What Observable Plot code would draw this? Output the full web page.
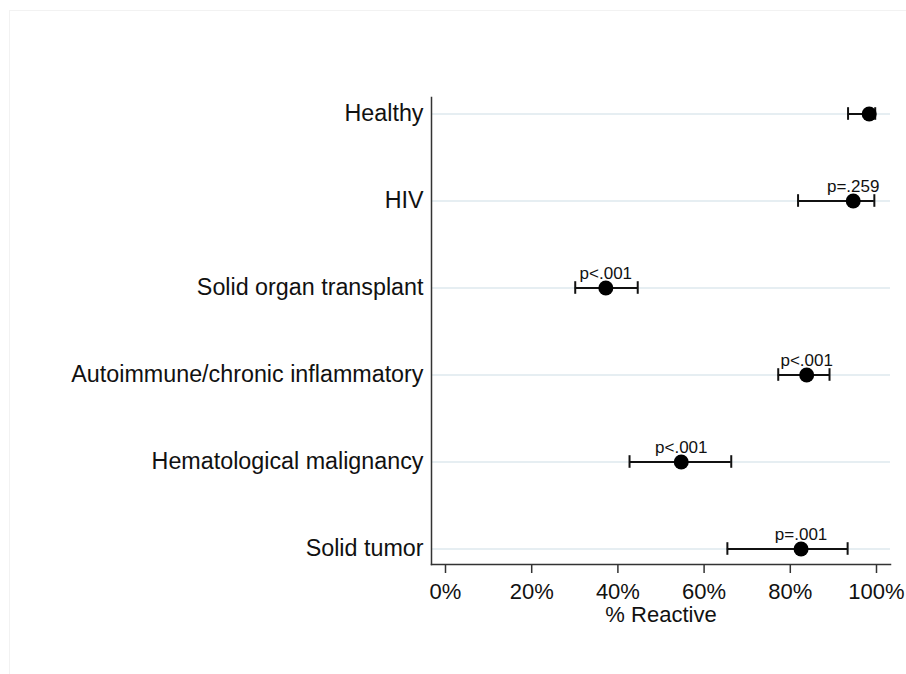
<!DOCTYPE html>
<html><head><meta charset="utf-8">
<script src="https://cdn.jsdelivr.net/npm/d3@7"></script>
<script src="https://cdn.jsdelivr.net/npm/@observablehq/plot@0.6"></script>
<style>
body{margin:0;background:#fff;}
#wrap{position:relative;width:906px;height:674px;overflow:hidden;}
#border{position:absolute;left:9px;top:10px;width:906px;height:674px;border:1px solid #f2f2f2;}
#chart{position:absolute;left:0;top:0;}
</style></head><body>
<div id="wrap"><div id="border"></div><div id="chart"></div></div>
<script>
const groups = ["Healthy", "HIV", "Solid organ transplant", "Autoimmune/chronic inflammatory", "Hematological malignancy", "Solid tumor"];
const estimates = [98.3, 94.6, 37.2, 83.8, 54.7, 82.5];
const lower = [93.4, 81.8, 30.1, 77.2, 42.7, 65.4];
const upper = [99.7, 99.5, 44.6, 89.1, 66.3, 93.3];
const pLabels = ["", "p=.259", "p<.001", "p<.001", "p<.001", "p=.001"];
const xTicks = [0, 20, 40, 60, 80, 100];

const data = groups.map((g, i) => ({group: g, est: estimates[i], lo: lower[i], hi: upper[i], p: pLabels[i]}));

const chart = Plot.plot({
  width: 906, height: 674,
  marginLeft: 431, marginRight: 16, marginTop: 97, marginBottom: 110,
  style: {fontFamily: "'Liberation Sans', Arial, sans-serif", background: "transparent", color: "#111"},
  x: {domain: [0, 100], insetLeft: 14, insetRight: 14},
  y: {type: "band", domain: groups, padding: 0, insetTop: -28.7, insetBottom: -28.7},
  marks: [
    Plot.ruleY(groups, {y: d => d, stroke: "#e6eef2", strokeWidth: 2}),
    Plot.frame({anchor: "left", stroke: "#333", strokeWidth: 1.5}),
    Plot.frame({anchor: "bottom", stroke: "#333", strokeWidth: 1.5}),
    Plot.axisY({tickSize: 0, tickPadding: 8, fontSize: 23.3, label: null}),
    Plot.axisX({ticks: xTicks, tickFormat: d => d + "%", tickSize: 9, tickPadding: 10, fontSize: 22,
      stroke: "#333", strokeWidth: 1.5,
      label: "% Reactive", labelAnchor: "center", labelOffset: 57, labelArrow: "none"}),
    Plot.ruleY(data, {y: "group", x1: "lo", x2: "hi", stroke: "#111", strokeWidth: 2}),
    Plot.tickX(data, {x: "lo", y: "group", insetTop: 37.2, insetBottom: 37.2, stroke: "#111", strokeWidth: 2}),
    Plot.tickX(data, {x: "hi", y: "group", insetTop: 37.2, insetBottom: 37.2, stroke: "#111", strokeWidth: 2}),
    Plot.dot(data, {x: "est", y: "group", r: 7.5, fill: "#000"}),
    Plot.text(data, {x: "est", y: "group", text: "p", dy: -14, fontSize: 17, fill: "#111"})
  ]
});
document.getElementById("chart").appendChild(chart);
</script>
</body></html>
